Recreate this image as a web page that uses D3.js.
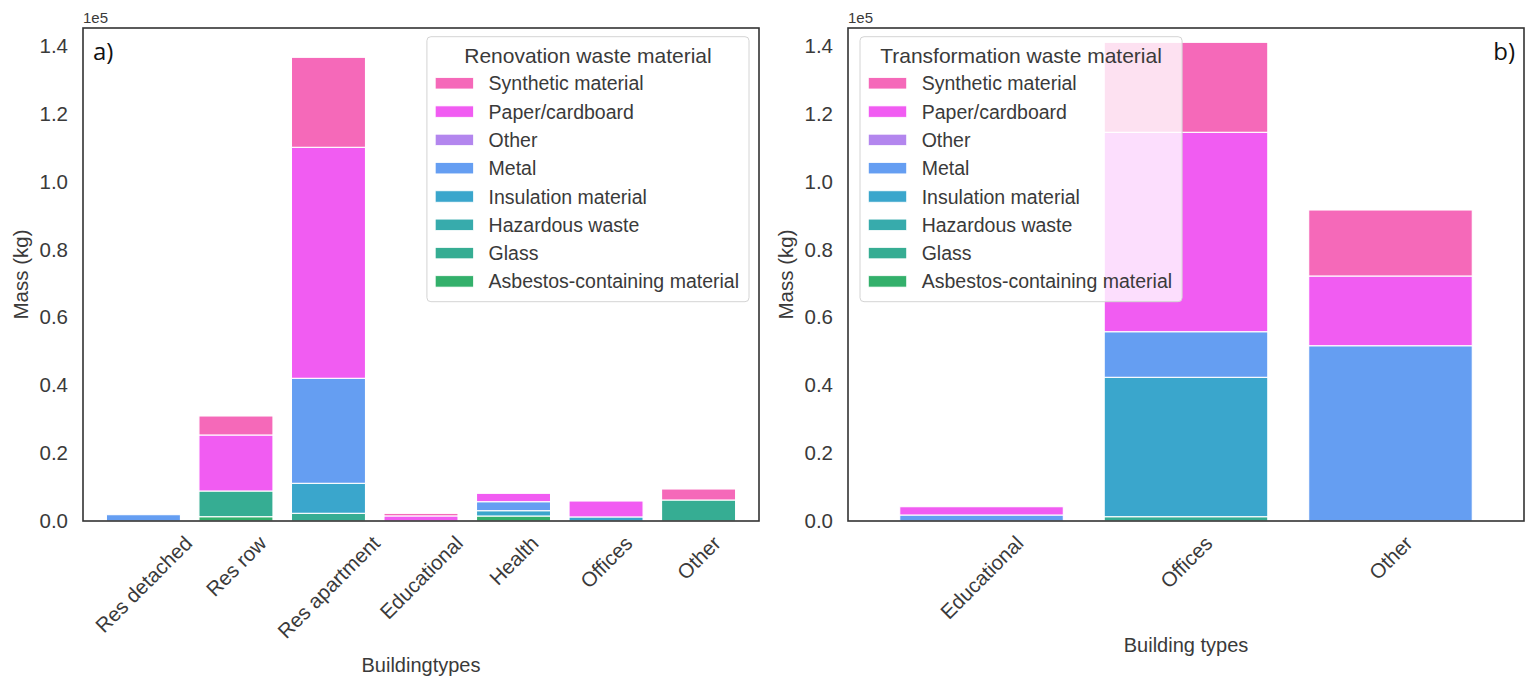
<!DOCTYPE html>
<html>
<head>
<meta charset="utf-8">
<script src="https://cdn.jsdelivr.net/npm/d3@7"></script>
<style>
  html, body { margin: 0; padding: 0; background: #ffffff; }
  svg { display: block; font-family: "Liberation Sans", Arial, sans-serif; }
</style>
</head>
<body>
<script>
// Waste mass per material (kg), stacked per building type.
const materials = [
  "Asbestos-containing material", "Glass", "Hazardous waste", "Insulation material",
  "Metal", "Other", "Paper/cardboard", "Synthetic material"
];
const materialColors = [
  "#33b06b", "#36ad93", "#37abac", "#3aa6cc",
  "#659ef2", "#b386ee", "#f15cf2", "#f569b9"
];

// a) renovation
const renovationTypes = ["Res detached", "Res row", "Res apartment", "Educational", "Health", "Offices", "Other"];
const renAsbestos   = [0,    1270, 0,     0,    1470, 0,    0];
const renGlass      = [0,    7570, 2270,  0,    0,    0,    6190];
const renHazardous  = [0,    0,    0,     0,    0,    0,    0];
const renInsulation = [0,    0,    8840,  0,    1570, 1200, 0];
const renMetal      = [1860, 0,    30950, 0,    2650, 0,    0];
const renOther      = [0,    0,    0,     0,    0,    0,    0];
const renPaper      = [0,    16510, 68080, 1500, 2470, 4690, 0];
const renSynthetic  = [0,    5600, 26520, 750,  0,    0,    3240];

// b) transformation
const transformationTypes = ["Educational", "Offices", "Other"];
const trAsbestos   = [0,    0,     0];
const trGlass      = [0,    1270,  0];
const trHazardous  = [0,    0,     0];
const trInsulation = [0,    41080, 0];
const trMetal      = [1770, 13440, 51660];
const trOther      = [0,    0,     0];
const trPaper      = [2440, 58770, 20550];
const trSynthetic  = [0,    26520, 19450];

const yTicks = [0, 20000, 40000, 60000, 80000, 100000, 120000, 140000];
const yMax = 145300;

const W = 1534, H = 679;
const svg = d3.select("body").append("svg").attr("width", W).attr("height", H);

const textColor = "#3a3a3a";
const tickFont = 20.5;

function buildRows(categories, columns) {
  return categories.map((c, i) => {
    const row = { category: c };
    materials.forEach((m, k) => { row[m] = columns[k][i]; });
    return row;
  });
}

function drawPanel(cfg) {
  const { left, right, top, bottom } = cfg;
  const g = svg.append("g");
  const rows = buildRows(cfg.categories, cfg.columns);

  const x = d3.scaleBand().domain(cfg.categories).range([left, right])
    .paddingInner(0.2).paddingOuter(0.253);
  const y = d3.scaleLinear().domain([0, yMax]).range([bottom, top]);
  const color = d3.scaleOrdinal().domain(materials).range(materialColors);

  const stacked = d3.stack().keys(materials)(rows);

  // stacked bars
  g.append("g").selectAll("g").data(stacked).join("g")
    .attr("fill", d => color(d.key))
    .selectAll("rect").data(d => d.filter(s => s[1] - s[0] > 0)).join("rect")
      .attr("x", d => x(d.data.category))
      .attr("width", x.bandwidth())
      .attr("y", d => y(d[1]))
      .attr("height", d => y(d[0]) - y(d[1]))
      .attr("stroke", "#ffffff")
      .attr("stroke-width", 1.1);

  // y axis
  const yAxis = g.append("g").attr("transform", `translate(${left},0)`)
    .call(d3.axisLeft(y).tickValues(yTicks).tickFormat(d => (d / 1e5).toFixed(1))
      .tickSize(0).tickPadding(15));
  yAxis.select(".domain").remove();
  yAxis.selectAll("text").attr("font-size", tickFont).attr("fill", textColor)
    .attr("font-family", "Liberation Sans, Arial, sans-serif");

  // offset text
  g.append("text").attr("x", left).attr("y", top - 5.5)
    .attr("font-size", 15).attr("fill", textColor).text("1e5");

  // x tick labels, rotated 45 degrees, bbox centred on tick
  const labelTop = bottom + 10;
  const lineH = tickFont * 1.15;
  let maxBottom = labelTop;
  g.append("g").selectAll("text").data(cfg.categories).join("text")
    .attr("font-size", tickFont).attr("fill", textColor)
    .attr("text-anchor", "middle").attr("dominant-baseline", "central")
    .text(d => d)
    .each(function (d) {
      const L = this.getComputedTextLength();
      const side = (L + lineH) * Math.SQRT1_2;
      const cx = x(d) + x.bandwidth() / 2;
      const cy = labelTop + side / 2;
      maxBottom = Math.max(maxBottom, labelTop + side);
      d3.select(this).attr("transform", `translate(${cx},${cy}) rotate(-45)`);
    });

  // axis titles
  g.append("text").attr("x", (left + right) / 2).attr("y", maxBottom + 22)
    .attr("text-anchor", "middle").attr("dominant-baseline", "central")
    .attr("font-size", 20).attr("fill", textColor).text(cfg.xLabel);
  g.append("text")
    .attr("transform", `translate(${left - 63},${(top + bottom) / 2}) rotate(-90)`)
    .attr("text-anchor", "middle").attr("dominant-baseline", "central")
    .attr("font-size", 20.5).attr("fill", textColor).text("Mass (kg)");

  // frame
  g.append("rect").attr("x", left).attr("y", top)
    .attr("width", right - left).attr("height", bottom - top)
    .attr("fill", "none").attr("stroke", "#333333").attr("stroke-width", 1.6);

  // panel tag
  g.append("text")
    .attr("x", cfg.tagX).attr("y", 60)
    .attr("text-anchor", cfg.tagAnchor)
    .attr("font-family", "Open Sans, Noto Sans, sans-serif")
    .attr("font-size", 24).attr("fill", "#111111").text(cfg.tag);

  // legend (top entry is the top of the stack)
  const legendItems = materials.slice().reverse();
  const lg = g.append("g");
  const rowH = 28.3;
  const boxTop = top + 8.7;
  const box = lg.append("rect").attr("y", boxTop).attr("rx", 4).attr("ry", 4)
    .attr("fill", "#ffffff").attr("fill-opacity", 0.8)
    .attr("stroke", "#d4d4d4").attr("stroke-width", 1);
  const title = lg.append("text").attr("y", boxTop + 18.5)
    .attr("text-anchor", "middle").attr("dominant-baseline", "central")
    .attr("font-size", 21).attr("fill", textColor).text(cfg.legendTitle);
  const labels = lg.append("g").selectAll("text").data(legendItems).join("text")
    .attr("y", (d, i) => boxTop + 46.6 + i * rowH)
    .attr("dominant-baseline", "central")
    .attr("font-size", 19.5).attr("fill", textColor).text(d => d);
  let maxLabel = 0;
  labels.each(function () { maxLabel = Math.max(maxLabel, this.getComputedTextLength()); });
  const titleW = title.node().getComputedTextLength();
  const boxW = Math.max(61.7 + maxLabel + 10, titleW + 40);
  const boxH = 265;
  const boxX = cfg.legendSide === "right" ? right - 10 - boxW : left + 12;
  box.attr("x", boxX).attr("width", boxW).attr("height", boxH);
  title.attr("x", boxX + boxW / 2);
  labels.attr("x", boxX + 61.7);
  lg.append("g").selectAll("rect").data(legendItems).join("rect")
    .attr("x", boxX + 8.3).attr("width", 38.4)
    .attr("y", (d, i) => boxTop + 46.6 + i * rowH - 5.7).attr("height", 11.4)
    .attr("fill", d => color(d)).attr("stroke", "#ffffff").attr("stroke-width", 0.8);
}

drawPanel({
  categories: renovationTypes,
  columns: [renAsbestos, renGlass, renHazardous, renInsulation, renMetal, renOther, renPaper, renSynthetic],
  left: 83, right: 759, top: 28, bottom: 521,
  xLabel: "Buildingtypes",
  legendTitle: "Renovation waste material",
  legendSide: "right",
  tag: "a)", tagX: 93, tagAnchor: "start"
});

drawPanel({
  categories: transformationTypes,
  columns: [trAsbestos, trGlass, trHazardous, trInsulation, trMetal, trOther, trPaper, trSynthetic],
  left: 848, right: 1524, top: 28, bottom: 521,
  xLabel: "Building types",
  legendTitle: "Transformation waste material",
  legendSide: "left",
  tag: "b)", tagX: 1515, tagAnchor: "end"
});
</script>
</body>
</html>
